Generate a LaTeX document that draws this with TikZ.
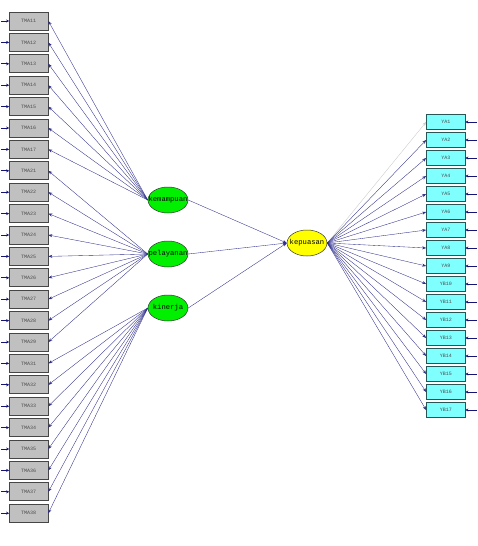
\documentclass[tikz,border=0pt]{standalone}
\usepackage{fontspec}
\setmonofont{Liberation Mono}
\usetikzlibrary{arrows.meta,shapes.geometric}
\definecolor{boxgray}{RGB}{192,192,192}
\definecolor{boxcyan}{RGB}{128,255,255}
\definecolor{lineblue}{RGB}{45,45,140}
\definecolor{errblue}{RGB}{20,20,120}
\definecolor{fixgray}{RGB}{200,200,200}
\definecolor{latgreen}{RGB}{0,240,0}
\definecolor{latyellow}{RGB}{255,255,0}
\begin{document}
\begin{tikzpicture}[x=1pt,y=-1pt,
  xbox/.style={draw={rgb,255:red,70;green,70;blue,70}, line width=0.7pt, fill=boxgray,
    minimum width=38.5pt, minimum height=18pt, inner sep=0pt,
    font=\fontsize{5}{5}\selectfont\ttfamily, text=black!70},
  ybox/.style={draw={rgb,255:red,40;green,85;blue,85}, line width=0.7pt, fill=boxcyan,
    minimum width=38.5pt, minimum height=15pt, inner sep=0pt,
    font=\fontsize{5}{5}\selectfont\ttfamily, text=black!70},
  lat/.style={ellipse, draw=black!80, line width=0.5pt, minimum width=40pt,
    minimum height=26pt, inner sep=0pt, font=\fontsize{7.2}{7.2}\selectfont\ttfamily},
  conn/.style={draw=lineblue, line width=0.35pt, -{Stealth[length=4pt,width=3pt]}},
  err/.style={draw=errblue, line width=0.8pt, -{Stealth[length=3pt,width=3pt]}}
]
\useasboundingbox (0,0) rectangle (478,546);

% latent variables
\node[lat, fill=latgreen] (kem) at (168,200) {\makebox[0pt]{kemampuan}};
\node[lat, fill=latgreen] (pel) at (168,254) {\makebox[0pt]{pelayanan}};
\node[lat, fill=latgreen] (kin) at (168,308) {\makebox[0pt]{kinerja}};
\node[lat, fill=latyellow] (kep) at (307,243) {\makebox[0pt]{kepuasan}};

% left indicators
\foreach \l [count=\i] in {TMA11,TMA12,TMA13,TMA14,TMA15,TMA16,TMA17,TMA21,TMA22,TMA23,TMA24,TMA25,TMA26,TMA27,TMA28,TMA29,TMA31,TMA32,TMA33,TMA34,TMA35,TMA36,TMA37,TMA38}{
  \node[xbox] (x\i) at (28.75,{21+21.4*(\i-1)}) {\l};
  \coordinate (ex\i) at (1,{21+21.4*(\i-1)});
  \draw[err] (ex\i) -- (x\i.west);
}

% right indicators
\foreach \l [count=\j] in {YA1,YA2,YA3,YA4,YA5,YA6,YA7,YA8,YA9,YB10,YB11,YB12,YB13,YB14,YB15,YB16,YB17}{
  \node[ybox] (y\j) at (445.75,{122+18*(\j-1)}) {\l};
  \coordinate (ey\j) at (477,{122+18*(\j-1)});
  \draw[err] (ey\j) -- (y\j.east);
}

% loadings
\foreach \i in {1,...,7} \draw[conn] (kem.west) -- (x\i.east);
\foreach \i in {8,...,16} \draw[conn] (pel.west) -- (x\i.east);
\foreach \i in {17,...,24} \draw[conn] (kin.west) -- (x\i.east);
\draw[conn, draw=fixgray] (kep.east) -- (y1.west);
\foreach \j in {2,...,17} \draw[conn] (kep.east) -- (y\j.west);

% structural paths
\draw[conn] (kem.east) -- (kep.west);
\draw[conn] (pel.east) -- (kep.west);
\draw[conn] (kin.east) -- (kep.west);
\end{tikzpicture}
\end{document}
